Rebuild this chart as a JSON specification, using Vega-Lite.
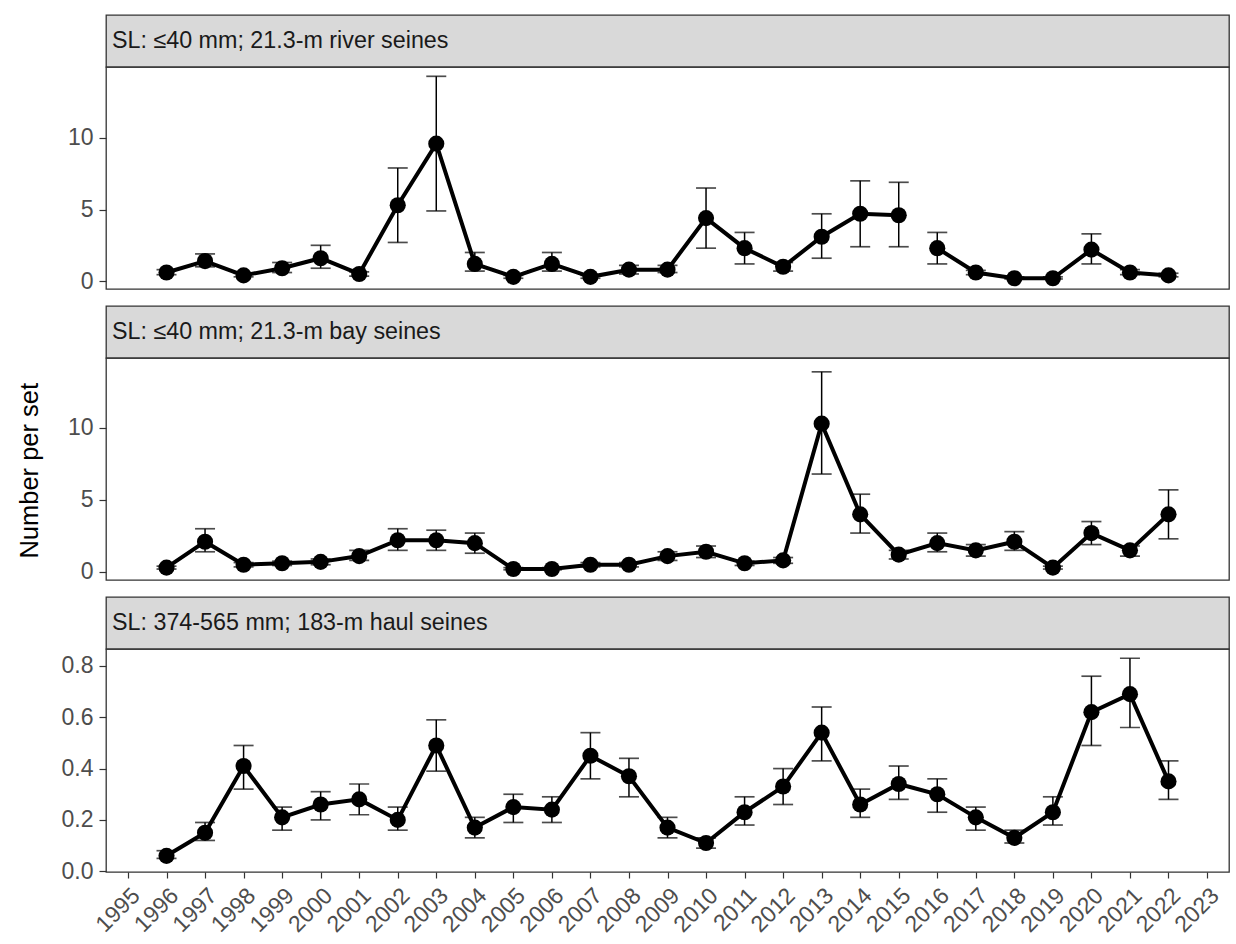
{
  "$schema": "https://vega.github.io/schema/vega-lite/v6.json",
  "background": "white",
  "padding": {"left": 17, "top": 14, "right": 7, "bottom": 4},
  "title": {"text": "Number per set", "orient": "left", "anchor": "middle", "fontSize": 25.5, "fontWeight": "normal", "color": "#000000", "font": "Liberation Sans", "offset": 15, "dx": 5},
  "config": {
    "font": "Liberation Sans",
    "view": {"stroke": "#333333", "strokeWidth": 1.3},
    "axis": {"grid": false, "domain": false, "tickColor": "#333333", "tickSize": 7, "tickWidth": 1.2, "labelColor": "#4d4d4d", "labelFontSize": 23, "labelPadding": 6, "labelFont": "Liberation Sans", "title": null},
    "axisY": {"minExtent": 47, "maxExtent": 47}
  },
  "datasets": {
    "p1": [
      {"year": 1996, "v": 0.6, "lo": 0.45, "hi": 0.8, "seg": 1},
      {"year": 1997, "v": 1.4, "lo": 1.0, "hi": 1.9, "seg": 1},
      {"year": 1998, "v": 0.4, "lo": 0.3, "hi": 0.55, "seg": 1},
      {"year": 1999, "v": 0.9, "lo": 0.6, "hi": 1.3, "seg": 1},
      {"year": 2000, "v": 1.6, "lo": 0.9, "hi": 2.5, "seg": 1},
      {"year": 2001, "v": 0.5, "lo": 0.35, "hi": 0.65, "seg": 1},
      {"year": 2002, "v": 5.3, "lo": 2.7, "hi": 7.9, "seg": 1},
      {"year": 2003, "v": 9.6, "lo": 4.9, "hi": 14.3, "seg": 1},
      {"year": 2004, "v": 1.2, "lo": 0.7, "hi": 2.0, "seg": 1},
      {"year": 2005, "v": 0.3, "lo": 0.2, "hi": 0.4, "seg": 1},
      {"year": 2006, "v": 1.2, "lo": 0.7, "hi": 2.0, "seg": 1},
      {"year": 2007, "v": 0.3, "lo": 0.2, "hi": 0.4, "seg": 1},
      {"year": 2008, "v": 0.8, "lo": 0.5, "hi": 1.1, "seg": 1},
      {"year": 2009, "v": 0.8, "lo": 0.6, "hi": 1.1, "seg": 1},
      {"year": 2010, "v": 4.4, "lo": 2.3, "hi": 6.5, "seg": 1},
      {"year": 2011, "v": 2.3, "lo": 1.2, "hi": 3.4, "seg": 1},
      {"year": 2012, "v": 1.0, "lo": 0.7, "hi": 1.3, "seg": 1},
      {"year": 2013, "v": 3.1, "lo": 1.6, "hi": 4.7, "seg": 1},
      {"year": 2014, "v": 4.7, "lo": 2.4, "hi": 7.0, "seg": 1},
      {"year": 2015, "v": 4.6, "lo": 2.4, "hi": 6.9, "seg": 1},
      {"year": 2016, "v": 2.3, "lo": 1.2, "hi": 3.4, "seg": 2},
      {"year": 2017, "v": 0.6, "lo": 0.45, "hi": 0.75, "seg": 2},
      {"year": 2018, "v": 0.2, "lo": 0.15, "hi": 0.3, "seg": 2},
      {"year": 2019, "v": 0.2, "lo": 0.15, "hi": 0.3, "seg": 2},
      {"year": 2020, "v": 2.2, "lo": 1.2, "hi": 3.3, "seg": 2},
      {"year": 2021, "v": 0.6, "lo": 0.45, "hi": 0.8, "seg": 2},
      {"year": 2022, "v": 0.4, "lo": 0.3, "hi": 0.55, "seg": 2}
    ],
    "p2": [
      {"year": 1996, "v": 0.3, "lo": 0.2, "hi": 0.4},
      {"year": 1997, "v": 2.1, "lo": 1.4, "hi": 3.0},
      {"year": 1998, "v": 0.5, "lo": 0.35, "hi": 0.65},
      {"year": 1999, "v": 0.6, "lo": 0.45, "hi": 0.75},
      {"year": 2000, "v": 0.7, "lo": 0.5, "hi": 0.9},
      {"year": 2001, "v": 1.1, "lo": 0.8, "hi": 1.5},
      {"year": 2002, "v": 2.2, "lo": 1.5, "hi": 3.0},
      {"year": 2003, "v": 2.2, "lo": 1.5, "hi": 2.9},
      {"year": 2004, "v": 2.0, "lo": 1.3, "hi": 2.7},
      {"year": 2005, "v": 0.2, "lo": 0.15, "hi": 0.3},
      {"year": 2006, "v": 0.2, "lo": 0.15, "hi": 0.3},
      {"year": 2007, "v": 0.5, "lo": 0.35, "hi": 0.65},
      {"year": 2008, "v": 0.5, "lo": 0.35, "hi": 0.65},
      {"year": 2009, "v": 1.1, "lo": 0.8, "hi": 1.4},
      {"year": 2010, "v": 1.4, "lo": 1.0, "hi": 1.8},
      {"year": 2011, "v": 0.6, "lo": 0.45, "hi": 0.75},
      {"year": 2012, "v": 0.8, "lo": 0.6, "hi": 1.0},
      {"year": 2013, "v": 10.3, "lo": 6.8, "hi": 13.9},
      {"year": 2014, "v": 4.0, "lo": 2.7, "hi": 5.4},
      {"year": 2015, "v": 1.2, "lo": 0.9, "hi": 1.5},
      {"year": 2016, "v": 2.0, "lo": 1.4, "hi": 2.7},
      {"year": 2017, "v": 1.5, "lo": 1.1, "hi": 1.9},
      {"year": 2018, "v": 2.1, "lo": 1.5, "hi": 2.8},
      {"year": 2019, "v": 0.3, "lo": 0.2, "hi": 0.4},
      {"year": 2020, "v": 2.7, "lo": 1.9, "hi": 3.5},
      {"year": 2021, "v": 1.5, "lo": 1.1, "hi": 1.8},
      {"year": 2022, "v": 4.0, "lo": 2.3, "hi": 5.7}
    ],
    "p3": [
      {"year": 1996, "v": 0.06, "lo": 0.05, "hi": 0.08},
      {"year": 1997, "v": 0.15, "lo": 0.12, "hi": 0.19},
      {"year": 1998, "v": 0.41, "lo": 0.32, "hi": 0.49},
      {"year": 1999, "v": 0.21, "lo": 0.16, "hi": 0.25},
      {"year": 2000, "v": 0.26, "lo": 0.2, "hi": 0.31},
      {"year": 2001, "v": 0.28, "lo": 0.22, "hi": 0.34},
      {"year": 2002, "v": 0.2, "lo": 0.16, "hi": 0.25},
      {"year": 2003, "v": 0.49, "lo": 0.39, "hi": 0.59},
      {"year": 2004, "v": 0.17, "lo": 0.13, "hi": 0.21},
      {"year": 2005, "v": 0.25, "lo": 0.19, "hi": 0.3},
      {"year": 2006, "v": 0.24, "lo": 0.19, "hi": 0.29},
      {"year": 2007, "v": 0.45, "lo": 0.36, "hi": 0.54},
      {"year": 2008, "v": 0.37, "lo": 0.29, "hi": 0.44},
      {"year": 2009, "v": 0.17, "lo": 0.13, "hi": 0.21},
      {"year": 2010, "v": 0.11, "lo": 0.09, "hi": 0.13},
      {"year": 2011, "v": 0.23, "lo": 0.18, "hi": 0.29},
      {"year": 2012, "v": 0.33, "lo": 0.26, "hi": 0.4},
      {"year": 2013, "v": 0.54, "lo": 0.43, "hi": 0.64},
      {"year": 2014, "v": 0.26, "lo": 0.21, "hi": 0.32},
      {"year": 2015, "v": 0.34, "lo": 0.28, "hi": 0.41},
      {"year": 2016, "v": 0.3, "lo": 0.23, "hi": 0.36},
      {"year": 2017, "v": 0.21, "lo": 0.16, "hi": 0.25},
      {"year": 2018, "v": 0.13, "lo": 0.11, "hi": 0.16},
      {"year": 2019, "v": 0.23, "lo": 0.18, "hi": 0.29},
      {"year": 2020, "v": 0.62, "lo": 0.49, "hi": 0.76},
      {"year": 2021, "v": 0.69, "lo": 0.56, "hi": 0.83},
      {"year": 2022, "v": 0.35, "lo": 0.28, "hi": 0.43}
    ]
  },
  "spacing": 11,
  "vconcat": [
    {
      "bounds": "flush",
      "spacing": 0,
      "vconcat": [
        {
          "width": 1123, "height": 52,
          "data": {"values": [{"label": "SL: ≤40 mm; 21.3-m river seines"}]},
          "view": {"fill": "#d9d9d9", "stroke": "#333333", "strokeWidth": 1.3},
          "mark": {"type": "text", "align": "left", "baseline": "middle", "fontSize": 23.3, "color": "#1a1a1a", "dx": 6},
          "encoding": {"text": {"field": "label"}, "x": {"datum": 0, "type": "quantitative", "scale": {"domain": [0, 1]}, "axis": null}}
        },
        {
          "width": 1123, "height": 222,
          "data": {"name": "p1"},
          "encoding": {"x": {"field": "year", "type": "quantitative", "scale": {"domain": [1994.43, 2023.57], "nice": false, "zero": false}, "axis": null}},
          "layer": [
            {"mark": {"type": "rule", "color": "#000000", "strokeWidth": 1.5},
             "encoding": {"y": {"field": "lo", "type": "quantitative", "scale": {"domain": [-0.55, 14.95], "nice": false, "zero": false}, "axis": {"values": [0, 5, 10], "title": null}}, "y2": {"field": "hi"}}},
            {"mark": {"type": "tick", "orient": "horizontal", "size": 20, "thickness": 1.7, "color": "#000000"},
             "encoding": {"y": {"field": "lo", "type": "quantitative", "scale": {"domain": [-0.55, 14.95], "nice": false, "zero": false}, "axis": {"values": [0, 5, 10], "title": null}}}},
            {"mark": {"type": "tick", "orient": "horizontal", "size": 20, "thickness": 1.7, "color": "#000000"},
             "encoding": {"y": {"field": "hi", "type": "quantitative", "scale": {"domain": [-0.55, 14.95], "nice": false, "zero": false}, "axis": {"values": [0, 5, 10], "title": null}}}},
            {"mark": {"type": "line", "color": "#000000", "strokeWidth": 4},
             "encoding": {"y": {"field": "v", "type": "quantitative", "scale": {"domain": [-0.55, 14.95], "nice": false, "zero": false}, "axis": {"values": [0, 5, 10], "title": null}}, "detail": {"field": "seg"}}},
            {"mark": {"type": "circle", "size": 260, "color": "#000000", "opacity": 1},
             "encoding": {"y": {"field": "v", "type": "quantitative", "scale": {"domain": [-0.55, 14.95], "nice": false, "zero": false}, "axis": {"values": [0, 5, 10], "title": null}}}}
          ]
        }
      ]
    },
    {
      "bounds": "flush",
      "spacing": 0,
      "vconcat": [
        {
          "width": 1123, "height": 52,
          "data": {"values": [{"label": "SL: ≤40 mm; 21.3-m bay seines"}]},
          "view": {"fill": "#d9d9d9", "stroke": "#333333", "strokeWidth": 1.3},
          "mark": {"type": "text", "align": "left", "baseline": "middle", "fontSize": 23.3, "color": "#1a1a1a", "dx": 6},
          "encoding": {"text": {"field": "label"}, "x": {"datum": 0, "type": "quantitative", "scale": {"domain": [0, 1]}, "axis": null}}
        },
        {
          "width": 1123, "height": 222,
          "data": {"name": "p2"},
          "encoding": {"x": {"field": "year", "type": "quantitative", "scale": {"domain": [1994.43, 2023.57], "nice": false, "zero": false}, "axis": null}},
          "layer": [
            {"mark": {"type": "rule", "color": "#000000", "strokeWidth": 1.5},
             "encoding": {"y": {"field": "lo", "type": "quantitative", "scale": {"domain": [-0.56, 14.86], "nice": false, "zero": false}, "axis": {"values": [0, 5, 10], "title": null}}, "y2": {"field": "hi"}}},
            {"mark": {"type": "tick", "orient": "horizontal", "size": 20, "thickness": 1.7, "color": "#000000"},
             "encoding": {"y": {"field": "lo", "type": "quantitative", "scale": {"domain": [-0.56, 14.86], "nice": false, "zero": false}, "axis": {"values": [0, 5, 10], "title": null}}}},
            {"mark": {"type": "tick", "orient": "horizontal", "size": 20, "thickness": 1.7, "color": "#000000"},
             "encoding": {"y": {"field": "hi", "type": "quantitative", "scale": {"domain": [-0.56, 14.86], "nice": false, "zero": false}, "axis": {"values": [0, 5, 10], "title": null}}}},
            {"mark": {"type": "line", "color": "#000000", "strokeWidth": 4},
             "encoding": {"y": {"field": "v", "type": "quantitative", "scale": {"domain": [-0.56, 14.86], "nice": false, "zero": false}, "axis": {"values": [0, 5, 10], "title": null}}}},
            {"mark": {"type": "circle", "size": 260, "color": "#000000", "opacity": 1},
             "encoding": {"y": {"field": "v", "type": "quantitative", "scale": {"domain": [-0.56, 14.86], "nice": false, "zero": false}, "axis": {"values": [0, 5, 10], "title": null}}}}
          ]
        }
      ]
    },
    {
      "bounds": "flush",
      "spacing": 0,
      "vconcat": [
        {
          "width": 1123, "height": 52,
          "data": {"values": [{"label": "SL: 374-565 mm; 183-m haul seines"}]},
          "view": {"fill": "#d9d9d9", "stroke": "#333333", "strokeWidth": 1.3},
          "mark": {"type": "text", "align": "left", "baseline": "middle", "fontSize": 23.3, "color": "#1a1a1a", "dx": 6},
          "encoding": {"text": {"field": "label"}, "x": {"datum": 0, "type": "quantitative", "scale": {"domain": [0, 1]}, "axis": null}}
        },
        {
          "width": 1123, "height": 223,
          "data": {"name": "p3"},
          "encoding": {"x": {"field": "year", "type": "quantitative", "scale": {"domain": [1994.43, 2023.57], "nice": false, "zero": false},
            "axis": {"values": [1995, 1996, 1997, 1998, 1999, 2000, 2001, 2002, 2003, 2004, 2005, 2006, 2007, 2008, 2009, 2010, 2011, 2012, 2013, 2014, 2015, 2016, 2017, 2018, 2019, 2020, 2021, 2022, 2023], "format": "d", "labelAngle": -45, "labelAlign": "right", "labelBaseline": "top", "labelOverlap": false, "labelPadding": 6, "tickSize": 6, "title": null}}},
          "layer": [
            {"mark": {"type": "rule", "color": "#000000", "strokeWidth": 1.5},
             "encoding": {"y": {"field": "lo", "type": "quantitative", "scale": {"domain": [-0.003, 0.866], "nice": false, "zero": false}, "axis": {"values": [0, 0.2, 0.4, 0.6, 0.8], "format": ".1f", "title": null}}, "y2": {"field": "hi"}}},
            {"mark": {"type": "tick", "orient": "horizontal", "size": 20, "thickness": 1.7, "color": "#000000"},
             "encoding": {"y": {"field": "lo", "type": "quantitative", "scale": {"domain": [-0.003, 0.866], "nice": false, "zero": false}, "axis": {"values": [0, 0.2, 0.4, 0.6, 0.8], "format": ".1f", "title": null}}}},
            {"mark": {"type": "tick", "orient": "horizontal", "size": 20, "thickness": 1.7, "color": "#000000"},
             "encoding": {"y": {"field": "hi", "type": "quantitative", "scale": {"domain": [-0.003, 0.866], "nice": false, "zero": false}, "axis": {"values": [0, 0.2, 0.4, 0.6, 0.8], "format": ".1f", "title": null}}}},
            {"mark": {"type": "line", "color": "#000000", "strokeWidth": 4},
             "encoding": {"y": {"field": "v", "type": "quantitative", "scale": {"domain": [-0.003, 0.866], "nice": false, "zero": false}, "axis": {"values": [0, 0.2, 0.4, 0.6, 0.8], "format": ".1f", "title": null}}}},
            {"mark": {"type": "circle", "size": 260, "color": "#000000", "opacity": 1},
             "encoding": {"y": {"field": "v", "type": "quantitative", "scale": {"domain": [-0.003, 0.866], "nice": false, "zero": false}, "axis": {"values": [0, 0.2, 0.4, 0.6, 0.8], "format": ".1f", "title": null}}}}
          ]
        }
      ]
    }
  ]
}
